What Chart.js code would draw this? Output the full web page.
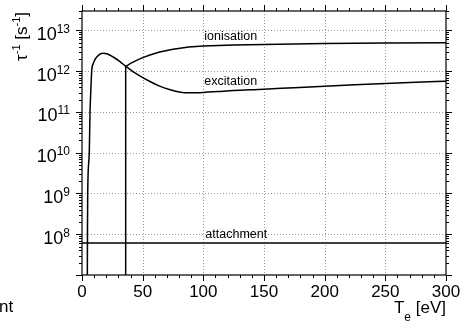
<!DOCTYPE html>
<html><head><meta charset="utf-8">
<script src="https://cdn.jsdelivr.net/npm/chart.js@4/dist/chart.umd.min.js"></script>
<style>html,body{margin:0;padding:0;background:#fff;overflow:hidden}#wrap{position:relative;width:465px;height:322px}</style>
</head><body><div id="wrap"><canvas id="c" width="465" height="322"></canvas></div>
<script>
// ---- data ----
const xTickValues = [0, 50, 100, 150, 200, 250, 300];
const yTickExponents = [8, 9, 10, 11, 12, 13];
const ionisationT    = [36, 36, 40, 45, 50, 56, 64, 75, 88, 100, 125, 150, 200, 250, 300];
const ionisationRate = [1e5, 1.3e12, 1.55e12, 1.85e12, 2.15e12, 2.5e12, 2.95e12, 3.45e12, 3.9e12, 4.15e12, 4.4e12, 4.55e12, 4.75e12, 4.9e12, 5.0e12];
const excitationT    = [4.3, 4.5, 4.7, 6.0, 6.6, 7.2, 8.0, 9.5, 11, 13.5, 17, 21, 26, 31, 36.5, 42, 48, 56, 64, 72, 80, 88, 100, 112, 125, 150, 175, 200, 225, 250, 275, 300];
const excitationRate = [1e6, 1e8, 1e9, 1e10, 1e11, 3e11, 1e12, 1.6e12, 2.0e12, 2.45e12, 2.75e12, 2.65e12, 2.2e12, 1.74e12, 1.29e12, 9.8e11, 7.6e11, 5.6e11, 4.3e11, 3.55e11, 3.1e11, 2.95e11, 3.02e11, 3.17e11, 3.35e11, 3.6e11, 3.95e11, 4.3e11, 4.65e11, 5.0e11, 5.35e11, 5.7e11];
const attachmentT    = [0, 300];
const attachmentRate = [6.1e7, 6.1e7];
const seriesNames = ['ionisation', 'excitation', 'attachment'];

const pts = (xs, ys) => xs.map((x, i) => ({x: x, y: ys[i]}));
const FONT = '"Liberation Sans", Arial, Helvetica, sans-serif';

const decor = {
  id: 'decor',
  beforeDatasetsDraw(chart) {
    const {ctx, chartArea: a, scales: {x, y}} = chart;
    ctx.save();
    ctx.strokeStyle = '#9a9a9a';
    ctx.lineWidth = 1;
    ctx.setLineDash([1, 2]);
    xTickValues.forEach(v => {
      if (v <= 0 || v >= 300) return;
      const px = Math.round(x.getPixelForValue(v)) + 0.5;
      ctx.beginPath(); ctx.moveTo(px, a.top); ctx.lineTo(px, a.bottom); ctx.stroke();
    });
    yTickExponents.forEach(e => {
      const py = Math.round(y.getPixelForValue(Math.pow(10, e))) + 0.5;
      ctx.beginPath(); ctx.moveTo(a.left, py); ctx.lineTo(a.right, py); ctx.stroke();
    });
    ctx.restore();
  },
  afterDatasetsDraw(chart) {
    const {ctx, chartArea: a, scales: {x, y}} = chart;
    ctx.save();
    ctx.setLineDash([]);
    ctx.strokeStyle = '#000';
    ctx.lineWidth = 1.2;
    ctx.strokeRect(a.left, a.top, a.right - a.left, a.bottom - a.top);
    ctx.lineWidth = 1;
    // x ticks
    for (let v = 0; v <= 300; v += 10) {
      const px = Math.round(x.getPixelForValue(v)) + 0.5;
      const len = (v % 50 === 0) ? 6 : 3;
      ctx.beginPath();
      ctx.moveTo(px, a.bottom); ctx.lineTo(px, a.bottom + len);
      ctx.moveTo(px, a.top); ctx.lineTo(px, a.top - len);
      ctx.stroke();
    }
    // y ticks (log)
    for (let e = 7; e <= 13; e++) {
      for (let k = 1; k <= 9; k++) {
        const v = k * Math.pow(10, e);
        if (v > y.max * 1.0001 || v < y.min * 0.9999) continue;
        const py = Math.round(y.getPixelForValue(v)) + 0.5;
        const len = k === 1 ? 6 : 3;
        ctx.beginPath();
        ctx.moveTo(a.left, py); ctx.lineTo(a.left - len, py);
        ctx.moveTo(a.right, py); ctx.lineTo(a.right + len, py);
        ctx.stroke();
      }
    }
    // x tick labels
    ctx.fillStyle = '#000';
    ctx.font = '17px ' + FONT;
    ctx.textAlign = 'center';
    ctx.textBaseline = 'alphabetic';
    xTickValues.forEach(v => ctx.fillText(String(v), x.getPixelForValue(v), 297));
    // y tick labels 10^n
    yTickExponents.forEach(e => {
      const py = y.getPixelForValue(Math.pow(10, e));
      ctx.textAlign = 'right';
      ctx.font = '12px ' + FONT;
      const ew = ctx.measureText(String(e)).width;
      ctx.fillText(String(e), 70, py + 2.5);
      ctx.font = '18px ' + FONT;
      ctx.fillText('10', 70 - ew, py + 9.5);
    });
    // y title
    ctx.save();
    ctx.translate(26.5, 36.5);
    ctx.rotate(-Math.PI / 2);
    const parts = [['τ', 17, 0], ['-1', 11, -7], [' [s', 17, 0], ['-1', 11, -7], [']', 17, 0]];
    let tw = 0;
    parts.forEach(p => { ctx.font = p[1] + 'px ' + FONT; tw += ctx.measureText(p[0]).width; });
    let cx = -tw / 2;
    ctx.textAlign = 'left';
    parts.forEach(p => { ctx.font = p[1] + 'px ' + FONT; ctx.fillText(p[0], cx, p[2]); cx += ctx.measureText(p[0]).width; });
    ctx.restore();
    // x title
    const xparts = [['T', 17, 0], ['e', 12, 8], [' [eV]', 17, 0]];
    let xw = 0;
    xparts.forEach(p => { ctx.font = p[1] + 'px ' + FONT; xw += ctx.measureText(p[0]).width; });
    let sx = 446 - xw;
    ctx.textAlign = 'left';
    xparts.forEach(p => { ctx.font = p[1] + 'px ' + FONT; ctx.fillText(p[0], sx, 313 + p[2]); sx += ctx.measureText(p[0]).width; });
    // cut-off fragment
    ctx.font = '17px ' + FONT;
    ctx.fillText('nt', -1, 312);
    // curve labels
    ctx.font = '12.5px ' + FONT;
    const lx = x.getPixelForValue(100) + 1;
    ctx.fillText(seriesNames[0], lx, y.getPixelForValue(ionisationRate[ionisationT.indexOf(100)]) - 6);
    ctx.fillText(seriesNames[1], lx, y.getPixelForValue(excitationRate[excitationT.indexOf(100)]) - 7);
    ctx.fillText(seriesNames[2], lx + 1, y.getPixelForValue(attachmentRate[0]) - 5);
    ctx.restore();
  }
};

new Chart(document.getElementById('c'), {
  type: 'scatter',
  data: {
    datasets: [
      {label: seriesNames[0], data: pts(ionisationT, ionisationRate), tension: 0},
      {label: seriesNames[1], data: pts(excitationT, excitationRate), cubicInterpolationMode: 'monotone'},
      {label: seriesNames[2], data: pts(attachmentT, attachmentRate), tension: 0}
    ].map(d => Object.assign({showLine: true, borderColor: '#000', borderWidth: 1.5, pointRadius: 0, pointHoverRadius: 0, fill: false}, d))
  },
  options: {
    responsive: false,
    animation: false,
    devicePixelRatio: 1,
    layout: {padding: {left: 82, right: 19, top: 11, bottom: 47}},
    plugins: {legend: {display: false}, tooltip: {enabled: false}},
    scales: {
      x: {type: 'linear', min: 0, max: 300, display: false},
      y: {type: 'logarithmic', min: 1e7, max: 3e13, display: false}
    }
  },
  plugins: [decor]
});
</script>
</body></html>
